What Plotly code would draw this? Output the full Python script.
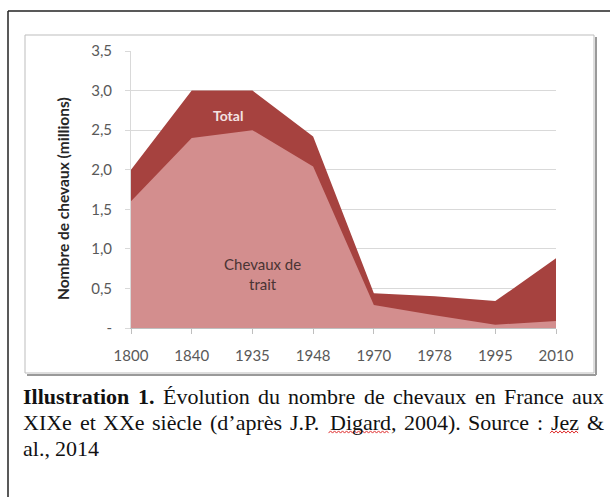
import plotly.graph_objects as go

# ---- data ----
years = ["1800", "1840", "1935", "1948", "1970", "1978", "1995", "2010"]
total = [2.0, 3.0, 3.0, 2.42, 0.44, 0.40, 0.34, 0.88]
trait = [1.60, 2.40, 2.50, 2.04, 0.29, 0.16, 0.04, 0.09]
y_tickvals = [0, 0.5, 1.0, 1.5, 2.0, 2.5, 3.0, 3.5]
y_ticktext = ["-", "0,5", "1,0", "1,5", "2,0", "2,5", "3,0", "3,5"]
y_title = "Nombre de chevaux (millions)"

caption_line1 = ["<b>Illustration</b>", "<b>1.</b>", "Évolution", "du", "nombre", "de",
                 "chevaux", "en", "France", "aux"]
caption_line2 = ["XIXe", "et", "XXe", "siècle", "(d’après", "J.P.", "Digard,", "2004).",
                 "Source", ":", "Jez", "&"]
caption_line3 = ["al.,", "2014"]
misspelled = {"Digard,": "Digard", "Jez": "Jez"}

W, H = 610, 497
L, R, T, B = 131, 556, 51, 328  # plot area in pixels


def px(x):
    return (x - L) / (R - L)


def py(y):
    return (B - y) / (B - T)


# Times New Roman advance widths (per 1000 em), regular and bold
TR = {' ': 250, '(': 333, ')': 333, ',': 250, '.': 250, ':': 278, '&': 778, '’': 333,
      '0': 500, '1': 500, '2': 500, '4': 500,
      'D': 722, 'F': 556, 'I': 333, 'J': 389, 'P': 556, 'S': 556, 'X': 722, 'É': 611,
      'a': 444, 'b': 500, 'c': 444, 'd': 500, 'e': 444, 'è': 444, 'g': 500, 'h': 500,
      'i': 278, 'l': 278, 'm': 778, 'n': 500, 'o': 500, 'p': 500, 'r': 333, 's': 389,
      't': 278, 'u': 500, 'v': 500, 'x': 500, 'z': 444}
TB = {'I': 389, 'l': 278, 'u': 556, 's': 389, 't': 333, 'r': 444, 'a': 500, 'i': 278,
      'o': 500, 'n': 556, '1': 500, '.': 250, ' ': 250}


def word_width(w, size):
    if w.startswith("<b>"):
        s = w[3:-4]
        return sum(TB.get(c, 500) for c in s) * size / 1000
    return sum(TR.get(c, 500) for c in w) * size / 1000


fig = go.Figure()
fig.add_trace(go.Scatter(x=years, y=total, mode="lines", fill="tozeroy",
                         line=dict(width=0, color="#A6423F"),
                         fillcolor="#A6423F", name="Total", hoverinfo="skip"))
fig.add_trace(go.Scatter(x=years, y=trait, mode="lines", fill="tozeroy",
                         line=dict(width=0, color="#D38E8E"),
                         fillcolor="#D38E8E", name="Chevaux de trait", hoverinfo="skip"))

shapes = []
# outer frame (top and left edges)
shapes.append(dict(type="line", xref="paper", yref="paper", x0=px(8), x1=px(612), y0=py(11), y1=py(11),
                   line=dict(color="#222222", width=1.5), layer="above"))
shapes.append(dict(type="line", xref="paper", yref="paper", x0=px(8), x1=px(8), y0=py(11), y1=py(500),
                   line=dict(color="#222222", width=1.5), layer="above"))
# inner chart box with shadow
shapes.append(dict(type="line", xref="paper", yref="paper", x0=px(596), x1=px(596), y0=py(37), y1=py(375),
                   line=dict(color="#9A9A9A", width=2), layer="below"))
shapes.append(dict(type="line", xref="paper", yref="paper", x0=px(27), x1=px(596), y0=py(375), y1=py(375),
                   line=dict(color="#9A9A9A", width=2), layer="below"))
shapes.append(dict(type="rect", xref="paper", yref="paper", x0=px(25), x1=px(594), y0=py(35), y1=py(373),
                   line=dict(color="#BDBDBD", width=1), fillcolor="white", layer="below"))


def squiggle(x0, x1, y):
    pts = []
    step = 2.0
    x = x0
    i = 0
    while x <= x1:
        yy = y + (1.1 if i % 2 == 0 else -1.1)
        pts.append((x, yy))
        x += step
        i += 1
    path = "M " + " L ".join(f"{px(a):.5f},{py(b):.5f}" for a, b in pts)
    return dict(type="path", xref="paper", yref="paper", path=path,
                line=dict(color="#E03030", width=1), layer="above")


annotations = [
    dict(x=1.6, y=2.68, xref="x", yref="y", text="<b>Total</b>", showarrow=False,
         font=dict(family="Lato", size=14, color="#F4E2E2")),
    dict(x=2.16, y=0.68, xref="x", yref="y", text="Chevaux de<br>trait", showarrow=False,
         font=dict(family="Lato", size=15, color="#4A3434")),
    dict(x=px(63), y=py(199), xref="paper", yref="paper", text="<b>" + y_title + "</b>",
         textangle=-90, showarrow=False, xanchor="center", yanchor="middle",
         font=dict(family="Lato", size=15.5, color="#262626")),
]

CAP_SIZE = 22
cap_font = dict(family="Liberation Serif", size=CAP_SIZE, color="#111111")
X_LEFT, X_RIGHT = 22, 603
line_specs = [(caption_line1, 396, True), (caption_line2, 422, True), (caption_line3, 448, False)]
for words, ymid, justify in line_specs:
    widths = [word_width(w, CAP_SIZE) for w in words]
    if justify and len(words) > 1:
        gap = (X_RIGHT - X_LEFT - sum(widths)) / (len(words) - 1)
    else:
        gap = TR[' '] * CAP_SIZE / 1000
    x = X_LEFT
    for w, wd in zip(words, widths):
        annotations.append(dict(x=px(x), y=py(ymid), xref="paper", yref="paper", text=w,
                                showarrow=False, xanchor="left", yanchor="middle",
                                borderpad=0, font=cap_font))
        if w in misspelled:
            ww = word_width(misspelled[w], CAP_SIZE)
            shapes.append(squiggle(x, x + ww, ymid + 10))
        x += wd + gap

fig.update_layout(
    width=W, height=H,
    margin=dict(l=L, r=W - R, t=T, b=H - B),
    paper_bgcolor="white", plot_bgcolor="rgba(0,0,0,0)",
    showlegend=False,
    shapes=shapes, annotations=annotations,
    font=dict(family="Lato", color="#595959"),
)
fig.update_xaxes(type="category", range=[0, 7], showgrid=False,
                 showline=True, linecolor="#BFBFBF", linewidth=1,
                 ticks="outside", ticklen=5, tickcolor="#BFBFBF",
                 tickfont=dict(family="Lato", size=15, color="#595959"),
                 ticklabelstandoff=9, zeroline=False, fixedrange=True)
fig.update_yaxes(range=[0, 3.5], tickvals=y_tickvals, ticktext=y_ticktext,
                 showgrid=True, gridcolor="#D9D9D9", gridwidth=1,
                 showline=True, linecolor="#D9D9D9", linewidth=1,
                 ticks="outside", ticklen=5, tickcolor="#D9D9D9",
                 tickfont=dict(family="Lato", size=15, color="#595959"),
                 ticklabelstandoff=10, zeroline=False, fixedrange=True)

fig.write_html("out.html", config={"displayModeBar": False},
               post_script="document.body.style.margin='0';document.body.style.overflow='hidden';")
